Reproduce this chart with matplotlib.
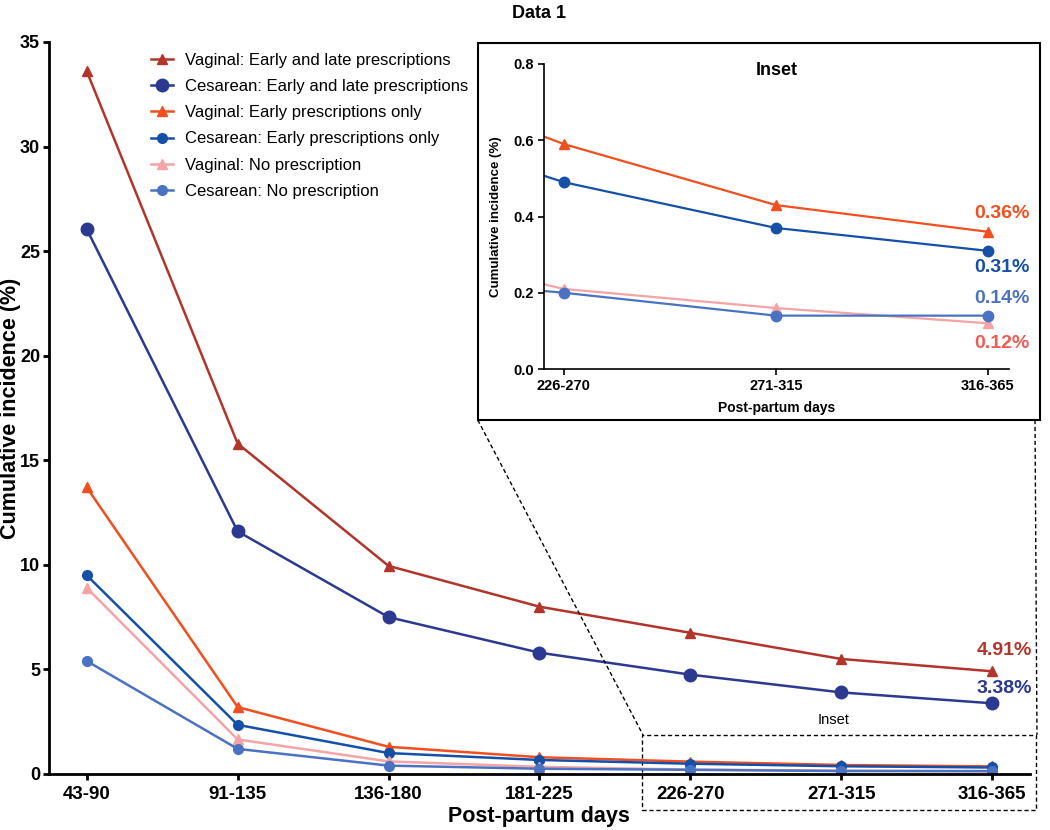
import numpy as np
import matplotlib
matplotlib.use("Agg")
import matplotlib.pyplot as plt
from matplotlib.patches import Rectangle
from matplotlib.lines import Line2D

plt.rcParams['font.family'] = ['Liberation Sans', 'DejaVu Sans']

# Data
periods = ['43-90', '91-135', '136-180', '181-225', '226-270', '271-315', '316-365']
vag_early_late = [33.6, 15.8, 9.95, 8.0, 6.75, 5.5, 4.91]
ces_early_late = [26.05, 11.6, 7.5, 5.8, 4.75, 3.9, 3.38]
vag_early = [13.7, 3.2, 1.3, 0.8, 0.59, 0.43, 0.36]
ces_early = [9.5, 2.35, 1.0, 0.67, 0.49, 0.37, 0.31]
vag_none = [8.9, 1.65, 0.6, 0.34, 0.21, 0.16, 0.12]
ces_none = [5.4, 1.2, 0.4, 0.25, 0.20, 0.14, 0.14]

series = [
    ('Vaginal: Early and late prescriptions', vag_early_late, '#B3342A', '^', 6.5),
    ('Cesarean: Early and late prescriptions', ces_early_late, '#2B3990', 'o', 9),
    ('Vaginal: Early prescriptions only', vag_early, '#F24E1F', '^', 7),
    ('Cesarean: Early prescriptions only', ces_early, '#1550A8', 'o', 7),
    ('Vaginal: No prescription', vag_none, '#F4A3A6', '^', 7),
    ('Cesarean: No prescription', ces_none, '#4A72C2', 'o', 7),
]

x = np.arange(len(periods))

fig = plt.figure(figsize=(10.5, 8.3), dpi=100)
ax = fig.add_axes([0.0467, 0.0675, 0.934, 0.8819])

for name, vals, col, mk, ms in series:
    ax.plot(x, vals, color=col, marker=mk, markersize=ms, lw=1.8, label=name)

ax.set_xlim(-0.25, 6.25)
ax.set_ylim(0, 35)
ax.set_yticks(range(0, 36, 5))
ax.set_xticks(x)
ax.set_xticklabels(periods)
for s in ['top', 'right']:
    ax.spines[s].set_visible(False)
for s in ['left', 'bottom']:
    ax.spines[s].set_linewidth(2)
ax.tick_params(width=2, length=4.5, labelsize=13.5)
ax.tick_params(axis='y', labelsize=13, pad=2)
ax.tick_params(axis='x', pad=4)
for lab in ax.get_xticklabels() + ax.get_yticklabels():
    lab.set_fontweight('bold')
ax.set_xlabel('Post-partum days', fontsize=15.5, fontweight='bold', labelpad=2)
ax.set_ylabel('Cumulative incidence (%)', fontsize=15.5, fontweight='bold', va='center')
ax.yaxis.set_label_coords(-0.039, 0.5)
fig.text(0.513, 0.984, 'Data 1', ha='center', va='center', fontsize=13, fontweight='bold')

ax.legend(loc='upper left', bbox_to_anchor=(0.104, 0.985), frameon=False, fontsize=12,
          handlelength=1.32, handletextpad=0.72, labelspacing=0.67,
          borderpad=0, borderaxespad=0)

ax.text(6.08, vag_early_late[-1] + 1.0, f'{vag_early_late[-1]:.2f}%', color='#B3342A',
        fontsize=14, fontweight='bold', ha='center', va='center')
ax.text(6.08, ces_early_late[-1] + 0.73, f'{ces_early_late[-1]:.2f}%', color='#2B3990',
        fontsize=14, fontweight='bold', ha='center', va='center')

# dashed zoom box
ax.add_patch(Rectangle((3.68, -1.72), 2.61, 3.59, fill=False, ls=(0, (3, 2)), lw=1,
                       ec='black', clip_on=False))
ax.text(4.95, 2.6, 'Inset', ha='center', va='center', fontsize=10.5)

# connector lines (figure coords)
fig.add_artist(Line2D([0.455, 0.6124], [0.494, 0.1145], color='black', lw=1,
                      ls=(0, (3, 2)), zorder=1))
fig.add_artist(Line2D([0.9857, 0.9876], [0.494, 0.1145], color='black', lw=1,
                      ls=(0, (3, 2)), zorder=1))

# inset frame
fig.add_artist(Rectangle((0.455, 0.494), 0.535, 0.454, transform=fig.transFigure,
                         facecolor='white', edgecolor='black', lw=1.5, zorder=1))

ins = fig.add_axes([0.518, 0.5554, 0.443, 0.3675], zorder=2)
for name, vals, col, mk, ms in series[2:]:
    ins.plot(x, vals, color=col, marker=mk, markersize=7.5, lw=1.6)
ins.set_xlim(3.906, 6.1)
ins.set_ylim(0, 0.8)
ins.set_yticks([0.0, 0.2, 0.4, 0.6, 0.8])
ins.set_xticks(x[4:])
ins.set_xticklabels(periods[4:])
for s in ['top', 'right']:
    ins.spines[s].set_visible(False)
for s in ['left', 'bottom']:
    ins.spines[s].set_linewidth(1.2)
ins.tick_params(width=1.2, length=4, labelsize=10.5, pad=3)
for lab in ins.get_xticklabels() + ins.get_yticklabels():
    lab.set_fontweight('bold')
ins.set_xlabel('Post-partum days', fontsize=10, fontweight='bold', labelpad=6)
ins.set_ylabel('Cumulative incidence (%)', fontsize=9.5, fontweight='bold', labelpad=8)
ins.text(0.5, 0.98, 'Inset', transform=ins.transAxes, fontsize=13, fontweight='bold',
         ha='center', va='center')

ins_labels = [
    (vag_early[-1], 0.049, '#F24E1F'),
    (ces_early[-1], -0.045, '#1550A8'),
    (ces_none[-1], 0.046, '#4A72C2'),
    (vag_none[-1], -0.052, '#F25C55'),
]
for v, off, col in ins_labels:
    ins.text(6.066, v + off, f'{v:.2f}%', color=col, fontsize=14, fontweight='bold',
             ha='center', va='center')

fig.savefig('out.png', dpi=100)
